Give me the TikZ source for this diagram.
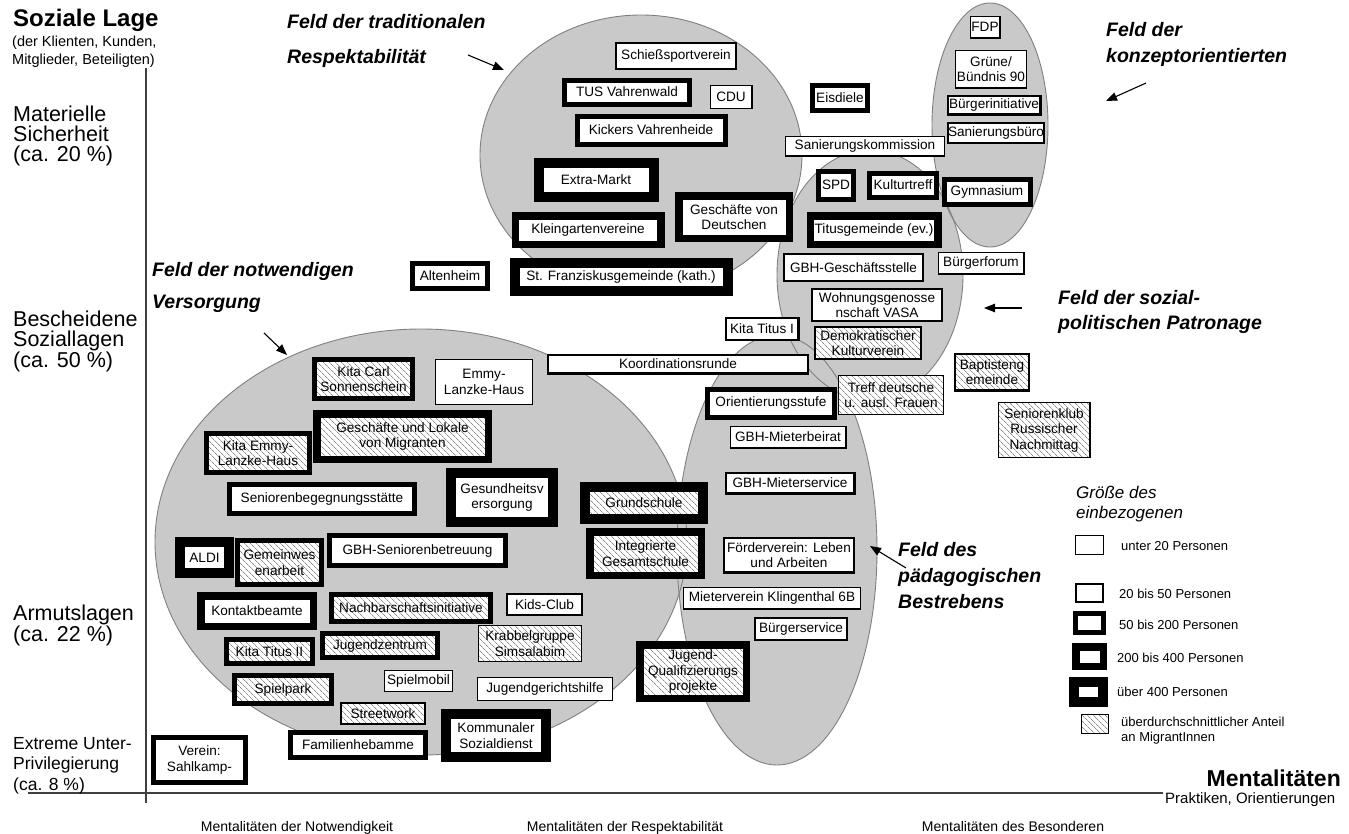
\documentclass[tikz,border=0pt]{standalone}
\usepackage{fontspec}
\setmainfont{Liberation Sans}
\usetikzlibrary{arrows.meta,patterns,patterns.meta}
\newcommand\bxfont{\fontsize{13.6}{15.5}\selectfont}
\newcommand\fldfont[1]{\fontsize{19.5}{#1}\selectfont\bfseries\itshape}
\begin{document}
\begin{tikzpicture}[x=1pt,y=-1pt,
  fieldarea/.style={fill=black!21},
  fieldedge/.style={draw=black!50, line width=0.9pt},
  box/.style={draw=black, fill=white, align=center, inner sep=0pt, outer sep=0pt, font=\bxfont, text=black},
  sz1/.style 2 args={box, line width=1.2pt, minimum width=#1pt-1.2pt, minimum height=#2pt-1.2pt},
  sz2/.style 2 args={box, line width=2.2pt, minimum width=#1pt-2.2pt, minimum height=#2pt-2.2pt},
  sz3/.style 2 args={box, line width=5pt, minimum width=#1pt-5pt, minimum height=#2pt-5pt},
  sz4/.style 2 args={box, line width=7.5pt, minimum width=#1pt-7.5pt, minimum height=#2pt-7.5pt},
  sz5/.style 2 args={box, line width=10pt, minimum width=#1pt-10pt, minimum height=#2pt-10pt},
  mig/.style={preaction={fill=white}, pattern={Lines[angle=-45,distance=4pt,line width=0.8pt]}, pattern color=black!45},
  pointer/.style={-{Triangle[length=11pt,width=8.5pt]}, line width=1.1pt},
  axisline/.style={draw=black!75, line width=1.5pt},
  lefttext/.style={anchor=north west, inner sep=0pt, align=left, font=\fontsize{21.5}{20}\selectfont},
  fieldtext/.style={anchor=north west, inner sep=0pt, align=left, font=\fldfont{#1}},
  legtext/.style={anchor=west, inner sep=0pt, align=left, font=\fontsize{13}{15}\selectfont},
  bottomtext/.style={anchor=base, inner sep=0pt, font=\fontsize{14}{16}\selectfont}
]
\fill[white] (0,0) rectangle (1349,833);
\useasboundingbox (0,0) rectangle (1349,833);

% fields (ellipses)
\fill[fieldarea] (641,155) ellipse [x radius=161pt, y radius=140pt];
\fill[fieldarea] (990,125) ellipse [x radius=58pt, y radius=122pt];
\fill[fieldarea] (870,275) ellipse [x radius=93pt, y radius=125pt];
\fill[fieldarea] (777,550) ellipse [x radius=100pt, y radius=215pt];
\fill[fieldarea] (421,542) ellipse [x radius=266pt, y radius=213pt];
\draw[fieldedge] (641,155) ellipse [x radius=161pt, y radius=140pt];
\draw[fieldedge] (990,125) ellipse [x radius=58pt, y radius=122pt];
\draw[fieldedge] (870,275) ellipse [x radius=93pt, y radius=125pt];
\draw[fieldedge] (777,550) ellipse [x radius=100pt, y radius=215pt];
\draw[fieldedge] (421,542) ellipse [x radius=266pt, y radius=213pt];

% axes
\coordinate (ytop) at (146,68);
\coordinate (ybot) at (146,803);
\coordinate (xleft) at (28,793);
\coordinate (xright) at (1163,793);
\draw[axisline] (ytop) -- (ybot);
\draw[axisline] (xleft) -- (xright);

% left axis labels
\node[anchor=north west, inner sep=0pt, font=\fontsize{24}{26}\selectfont\bfseries] (ylab) at (13,9) {Soziale Lage};
\node[anchor=north west, inner sep=0pt, align=left, font=\fontsize{14.5}{17.5}\selectfont] (ysub) at (12,36) {(der Klienten, Kunden,\\Mitglieder, Beteiligten)};
\node[lefttext] (lv1) at (13,106) {Materielle\\Sicherheit\\(ca. 20 \%)};
\node[lefttext] (lv2) at (13,311) {Bescheidene\\Soziallagen\\(ca. 50 \%)};
\node[lefttext] (lv3) at (13,605) {Armutslagen\\(ca. 22 \%)};
\node[lefttext, font=\fontsize{17.5}{20.5}\selectfont] (lv4) at (13,737) {Extreme Unter-\\Privilegierung\\(ca. 8 \%)};

% bottom axis labels
\node[anchor=east, inner sep=0pt, font=\fontsize{23}{25}\selectfont\bfseries] (xlab) at (1341,778) {Mentalitäten};
\node[anchor=west, inner sep=0pt, font=\fontsize{15}{17}\selectfont] (xsub) at (1165,800) {Praktiken, Orientierungen};
\node[bottomtext] (m1) at (297,831) {Mentalitäten der Notwendigkeit};
\node[bottomtext] (m2) at (625,831) {Mentalitäten der Respektabilität};
\node[bottomtext] (m3) at (1013,831) {Mentalitäten des Besonderen};

% field labels
\node[fieldtext=35] (ftrad) at (287,14) {Feld der traditionalen\\Respektabilität};
\node[fieldtext=26] (fkonz) at (1106,22) {Feld der\\konzeptorientierten};
\node[fieldtext=32] (fnotw) at (152,262) {Feld der notwendigen\\Versorgung};
\node[fieldtext=25] (fsoz) at (1058,290) {Feld der sozial-\\politischen Patronage};
\node[fieldtext=26] (fpaed) at (898,542) {Feld des\\pädagogischen\\Bestrebens};

% pointer arrows
\coordinate (p1s) at (468,55);  \coordinate (p1e) at (504,70);
\coordinate (p2s) at (1146,83); \coordinate (p2e) at (1106,101);
\coordinate (p3s) at (264,333); \coordinate (p3e) at (287,355);
\coordinate (p4s) at (1022,308); \coordinate (p4e) at (984,308);
\coordinate (p5s) at (906,568); \coordinate (p5e) at (870,546);
\draw[pointer] (p1s) -- (p1e);
\draw[pointer] (p2s) -- (p2e);
\draw[pointer] (p3s) -- (p3e);
\draw[pointer] (p4s) -- (p4e);
\draw[pointer] (p5s) -- (p5e);

% field of traditional respectability
\node[sz2={122}{28}] (schiess) at (676,56) {Schießsportverein};
\node[sz3={130}{29}] (tus) at (627,92) {TUS Vahrenwald};
\node[sz1={43}{24}] (cdu) at (731,97) {CDU};
\node[sz3={153}{33}] (kickers) at (651,130) {Kickers Vahrenheide};
\node[sz5={125}{44}] (extra) at (596,180) {Extra-Markt};
\node[sz4={118}{50}] (gesdt) at (734,217) {Geschäfte von\\Deutschen};
\node[sz4={153}{36}] (klein) at (588,230) {Kleingartenvereine};
\node[sz5={223}{38}] (franz) at (621,277) {St. Franziskusgemeinde (kath.)};
\node[sz3={80}{30}] (alten) at (450,276) {Altenheim};

% field of concept-oriented
\node[sz1={31}{23}] (fdp) at (985,27) {FDP};
\node[sz1={72}{39}] (gruene) at (991,69) {Grüne/\\Bündnis 90};
\node[sz2={95}{21}] (bini) at (994,105) {Bürgerinitiative};
\node[sz2={96}{22}] (sbuero) at (996,133) {Sanierungsbüro};
\node[sz3={60}{30}] (eis) at (840,98) {Eisdiele};
\node[sz1={160}{21}] (skom) at (865,146) {Sanierungskommission};
\node[sz3={40}{33}] (spd) at (836,185) {SPD};
\node[sz3={72}{29}] (kultur) at (903,185) {Kulturtreff};
\node[sz3={91}{30}] (gym) at (987,192) {Gymnasium};
\node[sz4={135}{36}] (titus) at (874,230) {Titusgemeinde (ev.)};

% socio-political patronage
\node[sz2={141}{29}] (gbhgs) at (853.5,267.5) {GBH-Geschäftsstelle};
\node[sz1={87}{23}] (bforum) at (981,263) {Bürgerforum};
\node[sz2={132}{34}] (vasa) at (877,305) {Wohnungsgenosse\\nschaft VASA};
\node[sz2={75}{24}] (kitat1) at (762,329) {Kita Titus I};
\node[sz2={108}{34}, mig] (demo) at (868,343) {Demokratischer\\Kulturverein};
\node[sz2={262}{21}] (koord) at (678,364) {Koordinationsrunde};
\node[sz1={106}{40}, mig] (treff) at (891,395) {Treff deutsche\\u. ausl. Frauen};
\node[sz2={76}{39}, mig] (bapt) at (992,372) {Baptisteng\\emeinde};
\node[sz1={93}{56}, mig] (senrus) at (1044,430) {Seniorenklub\\Russischer\\Nachmittag};

% pedagogical field
\node[sz3={132}{33}] (orient) at (771,403) {Orientierungsstufe};
\node[sz1={117}{23}] (gbhmb) at (788,437) {GBH-Mieterbeirat};
\node[sz2={131}{23}] (gbhms) at (790,483) {GBH-Mieterservice};
\node[sz2={132}{37}] (foerder) at (789,555) {Förderverein: Leben\\und Arbeiten};
\node[sz1={178}{23}] (mieterv) at (772,598) {Mieterverein Klingenthal 6B};
\node[sz2={94}{24}] (bservice) at (801,629) {Bürgerservice};
\node[sz5={128}{42}, mig] (grund) at (644,503) {Grundschule};
\node[sz4={119}{51}, mig] (igs) at (645.5,553.5) {Integrierte\\Gesamtschule};
\node[sz4={114}{61}, mig] (jqp) at (693,671.5) {Jugend-\\Qualifizierungs\\projekte};

% field of necessary provision
\node[sz3={103}{44}, mig] (kitacarl) at (363.5,379) {Kita Carl\\Sonnenschein};
\node[sz1={98}{46}] (emmy) at (484,382) {Emmy-\\Lanzke-Haus};
\node[sz4={179}{53}, mig] (geslok) at (402.5,436.5) {Geschäfte und Lokale\\von Migranten};
\node[sz3={108}{44}, mig] (kitaemmy) at (258,453) {Kita Emmy-\\Lanzke-Haus};
\node[sz3={190}{34}] (senbeg) at (322,499) {Seniorenbegegnungsstätte};
\node[sz5={112}{59}] (gesund) at (502,497.5) {Gesundheitsv\\ersorgung};
\node[sz5={59}{41}] (aldi) at (204.5,557.5) {ALDI};
\node[sz3={89}{49}, mig] (gemein) at (279.5,562.5) {Gemeinwes\\enarbeit};
\node[sz3={181}{35}] (gbhsen) at (417.5,550.5) {GBH-Seniorenbetreuung};
\node[sz4={120}{38}] (kontakt) at (257,611) {Kontaktbeamte};
\node[sz3={164}{32}, mig] (nachbar) at (411,608) {Nachbarschaftsinitiative};
\node[sz2={77}{23}] (kids) at (544.5,604.5) {Kids-Club};
\node[sz3={91}{29}, mig] (kitat2) at (269.5,651.5) {Kita Titus II};
\node[sz3={120}{29}, mig] (jugz) at (380,645.5) {Jugendzentrum};
\node[sz1={104}{37}, mig] (krabbel) at (530,643.5) {Krabbelgruppe\\Simsalabim};
\node[sz3={102}{33}, mig] (spielpark) at (283,689.5) {Spielpark};
\node[sz1={69}{22}] (spielmobil) at (418.5,681) {Spielmobil};
\node[sz1={136}{24}] (jgh) at (545,689) {Jugendgerichtshilfe};
\node[sz2={86}{23}, mig] (street) at (383,713.5) {Streetwork};
\node[sz3={140}{30}] (famheb) at (358,745) {Familienhebamme};
\node[sz5={110}{53}] (kommsoz) at (496,735.5) {Kommunaler\\Sozialdienst};
\node[sz3={97}{50}] (sahl) at (199.5,760) {Verein:\\Sahlkamp-};

% legend
\node[anchor=north west, inner sep=0pt, align=left, font=\fontsize{17}{20}\selectfont\itshape] (legtitle) at (1076,486) {Größe des\\einbezogenen};
\node[sz1={29}{20}] (lg1) at (1089.5,545) {};
\node[sz2={29}{20}] (lg2) at (1089.5,593) {};
\node[sz3={33}{24}] (lg3) at (1089.5,623) {};
\node[sz4={35}{27}] (lg4) at (1089.5,656.5) {};
\node[sz5={39}{30}] (lg5) at (1088.5,692) {};
\node[sz1={28}{20}, mig] (lg6) at (1095,724) {};
\node[legtext] (lt1) at (1121,546) {unter 20 Personen};
\node[legtext] (lt2) at (1119,594) {20 bis 50 Personen};
\node[legtext] (lt3) at (1119,625) {50 bis 200 Personen};
\node[legtext] (lt4) at (1117,658) {200 bis 400 Personen};
\node[legtext] (lt5) at (1117,692) {über 400 Personen};
\node[legtext] (lt6) at (1121,731) {überdurchschnittlicher Anteil\\an MigrantInnen};
\end{tikzpicture}
\end{document}
